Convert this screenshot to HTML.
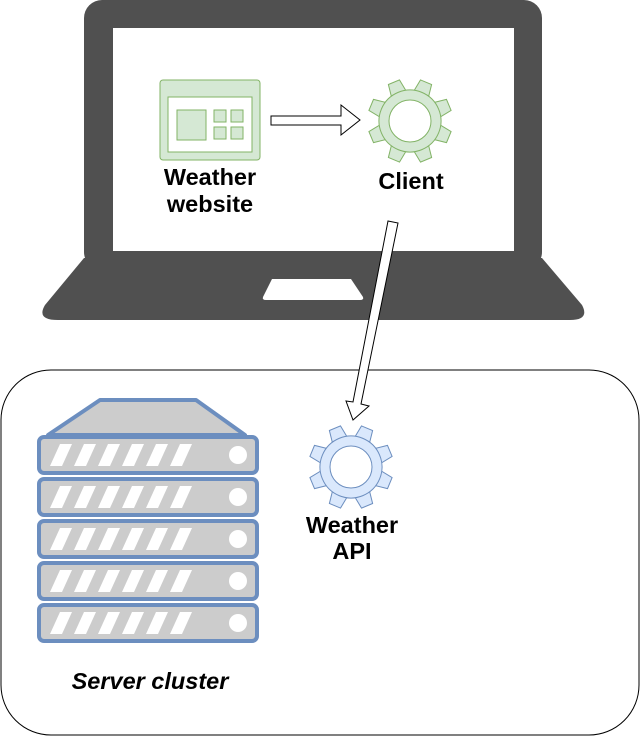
<!DOCTYPE html>
<html><head><style>body{margin:0;background:#fff}svg{display:block}text{font-family:"Liberation Sans",sans-serif;font-weight:bold;font-size:23.5px;text-anchor:middle}</style></head>
<body>
<svg width="641" height="736" viewBox="0 0 641 736" xmlns="http://www.w3.org/2000/svg">
<defs>
<g id="gear">
<g stroke-width="1" transform="rotate(22.5)">
<path d="M-6 -42 L6 -42 L9 -22 L-9 -22 Z"/>
<path d="M-6 -42 L6 -42 L9 -22 L-9 -22 Z" transform="rotate(45)"/>
<path d="M-6 -42 L6 -42 L9 -22 L-9 -22 Z" transform="rotate(90)"/>
<path d="M-6 -42 L6 -42 L9 -22 L-9 -22 Z" transform="rotate(135)"/>
<path d="M-6 -42 L6 -42 L9 -22 L-9 -22 Z" transform="rotate(180)"/>
<path d="M-6 -42 L6 -42 L9 -22 L-9 -22 Z" transform="rotate(225)"/>
<path d="M-6 -42 L6 -42 L9 -22 L-9 -22 Z" transform="rotate(270)"/>
<path d="M-6 -42 L6 -42 L9 -22 L-9 -22 Z" transform="rotate(315)"/>
<circle r="31"/>
</g>
<circle r="30" stroke="none"/>
<circle r="21" fill="#fff"/>
</g>
<g id="unit">
<rect x="39" y="0" width="218" height="36" rx="5" fill="#ccc" stroke="#6c8ebf" stroke-width="4"/>
<g fill="#fff">
<polygon points="60,7 72,7 62,29 50,29"/><polygon points="84,7 96,7 86,29 74,29"/>
<polygon points="108,7 120,7 110,29 98,29"/><polygon points="132,7 144,7 134,29 122,29"/>
<polygon points="156,7 168,7 158,29 146,29"/><polygon points="180,7 192,7 182,29 170,29"/>
<circle cx="238" cy="18" r="9"/></g>
</g>
</defs>
<rect x="84" y="0" width="458" height="270" rx="18" fill="#505050"/>
<path d="M84 258 L542 258 L582 305 Q590 320 570 320 L58 320 Q36 320 45 305 Z" fill="#505050"/>
<rect x="113" y="28" width="401" height="223" fill="#fff"/>
<path d="M272 279 L351 279 L363 297 Q364 300 360 300 L266 300 Q262 300 263 297 Z" fill="#fff"/>
<rect x="160" y="80" width="100" height="80" rx="3" fill="#d5e8d4" stroke="#82b366" stroke-width="1"/>
<rect x="168" y="97" width="84" height="55" fill="#fff" stroke="#82b366" stroke-width="1"/>
<g fill="#d5e8d4" stroke="#82b366" stroke-width="1">
<rect x="177" y="110" width="29" height="30"/>
<rect x="214" y="110" width="12" height="12"/><rect x="231" y="110" width="12" height="12"/>
<rect x="214" y="127" width="12" height="12"/><rect x="231" y="127" width="12" height="12"/>
</g>
<text x="210" y="185">Weather</text><text x="210" y="212">website</text>
<polygon points="271,116 341,116 341,105 360,120 341,135 341,125 271,125" fill="#fff" stroke="#000" stroke-width="1"/>
<use href="#gear" x="410" y="121" fill="#d5e8d4" stroke="#82b366"/>
<text x="411" y="189">Client</text>
<rect x="1" y="370" width="638" height="365" rx="50" fill="#fff" stroke="#000" stroke-width="1"/>
<polygon points="388,221 398,223 361,404 369,406 353,420 346,401 353,402" fill="#fff" stroke="#000" stroke-width="1"/>
<use href="#gear" x="351" y="467" fill="#dae8fc" stroke="#6c8ebf"/>
<text x="352" y="533">Weather</text><text x="352" y="559">API</text>
<polygon points="100,400 196,400 245,435 48,435" fill="#ccc" stroke="#6c8ebf" stroke-width="4" stroke-linejoin="round"/>
<use href="#unit" y="437"/><use href="#unit" y="479"/><use href="#unit" y="521"/><use href="#unit" y="563"/><use href="#unit" y="605"/>
<text x="150" y="689" font-style="italic">Server cluster</text>
</svg>
</body></html>
